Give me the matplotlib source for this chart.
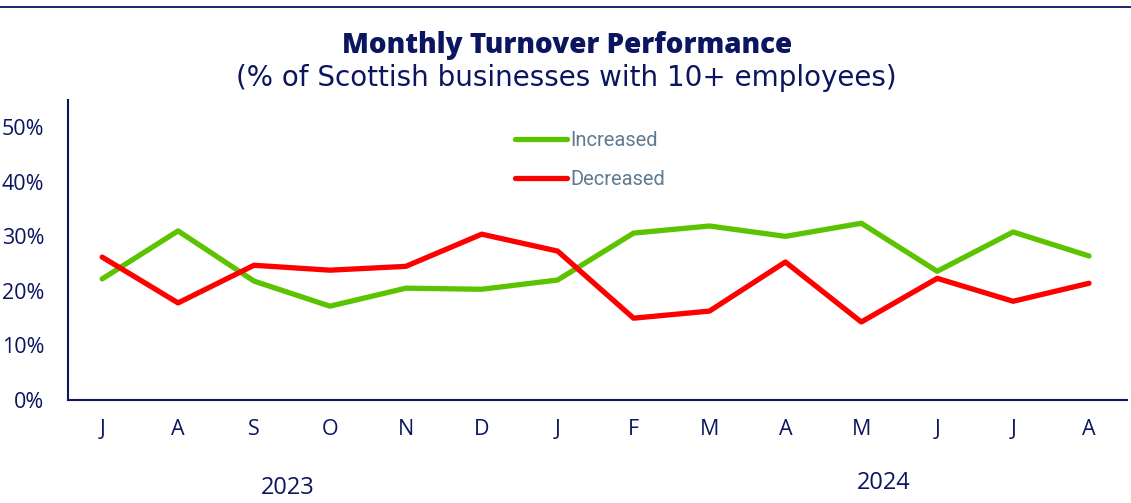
import matplotlib
matplotlib.use("Agg")
import matplotlib.pyplot as plt
from matplotlib.lines import Line2D

months = ["J", "A", "S", "O", "N", "D", "J", "F", "M", "A", "M", "J", "J", "A"]
increased = [22.2, 31.0, 21.8, 17.2, 20.5, 20.3, 22.0, 30.6, 31.9, 30.0, 32.4, 23.6, 30.8, 26.4]
decreased = [26.2, 17.8, 24.7, 23.8, 24.5, 30.4, 27.3, 15.0, 16.3, 25.3, 14.3, 22.3, 18.1, 21.4]
years = ["2023", "2024"]
year_pos = [2.45, 10.3]
year_y = [-0.292, -0.278]

navy = "#0b1560"
green = "#5cc300"
red = "#ff0000"

plt.rcParams["font.family"] = ["Open Sans", "DejaVu Sans"]

fig = plt.figure(figsize=(11.31, 5.03), dpi=100)
ax = fig.add_axes([68 / 1131, 1 - 400 / 503, 1059 / 1131, 300 / 503])

x = range(len(months))
ax.plot(x, increased, color=green, lw=3.8, solid_capstyle="round", label="Increased")
ax.plot(x, decreased, color=red, lw=3.8, solid_capstyle="round", label="Decreased")

ax.set_xlim(-0.45, len(months) - 0.5)
ax.set_ylim(0, 55)
ax.set_yticks(range(0, 51, 10))
ax.set_yticklabels([f"{v}%" for v in range(0, 51, 10)])
ax.set_xticks(list(x))
ax.set_xticklabels(months)
ax.tick_params(axis="both", length=0, colors=navy, labelsize=15.5)
ax.tick_params(axis="y", pad=17)
ax.tick_params(axis="x", pad=14)
for s in ["top", "right"]:
    ax.spines[s].set_visible(False)
for s in ["left", "bottom"]:
    ax.spines[s].set_color(navy)
    ax.spines[s].set_linewidth(1.5)

for yr, p, yy in zip(years, year_pos, year_y):
    ax.text(p, yy, yr, transform=ax.get_xaxis_transform(), ha="center", va="center",
            fontsize=17, color=navy)

leg = ax.legend(loc="center left", bbox_to_anchor=(0.405, 0.8), frameon=False,
                handlelength=2.6, handletextpad=0.15, labelspacing=0.95,
                labelcolor="#5f7b93", prop={"family": "Roboto", "size": 14.5})

fig.text(0.501, 1 - 45 / 503, "Monthly Turnover Performance", ha="center", va="center",
         fontsize=20, fontweight="heavy", color=navy)
fig.text(0.501, 1 - 78 / 503, "(% of Scottish businesses with 10+ employees)", ha="center",
         va="center", fontsize=20, color=navy, family="DejaVu Sans")
fig.add_artist(Line2D([0, 1], [1 - 7 / 503, 1 - 7 / 503], color=navy, lw=1.3,
                      transform=fig.transFigure))

fig.savefig("out.png", dpi=100)
